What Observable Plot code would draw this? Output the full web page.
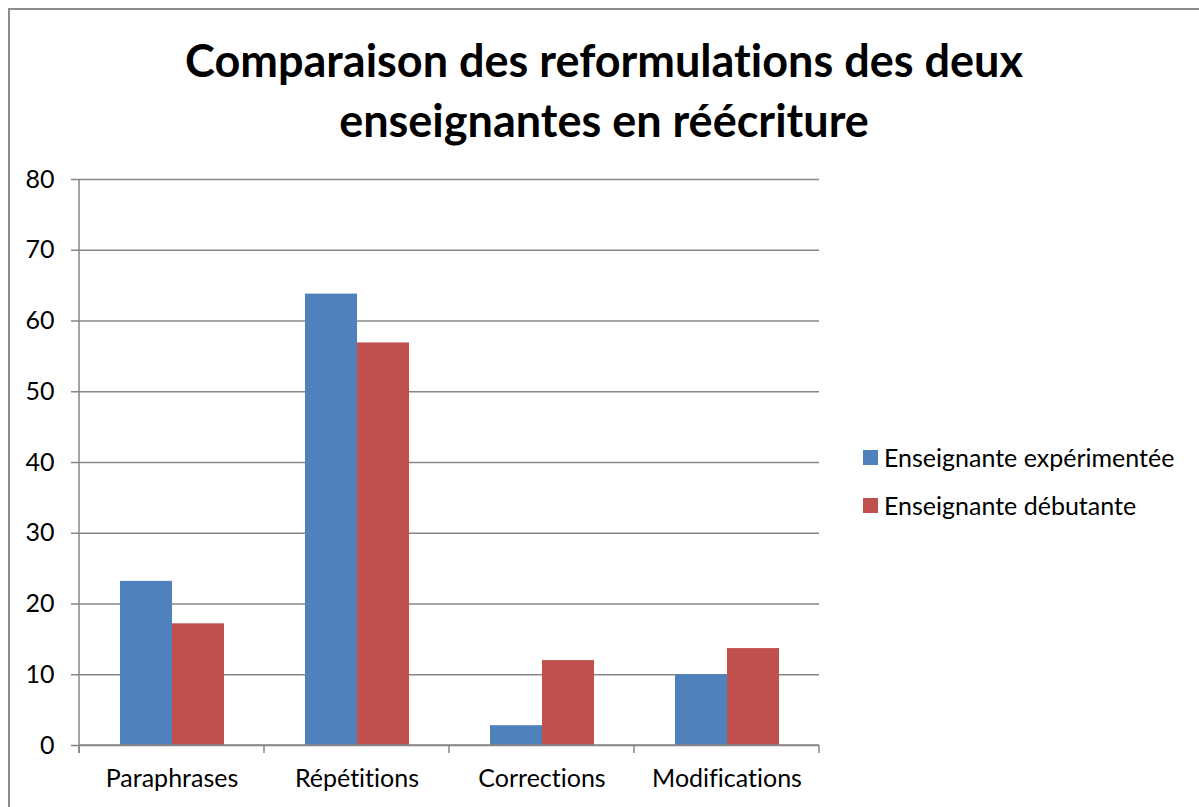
<!DOCTYPE html>
<html>
<head>
<meta charset="utf-8">
<script src="https://cdn.jsdelivr.net/npm/d3@7"></script>
<script src="https://cdn.jsdelivr.net/npm/@observablehq/plot@0.6"></script>
<style>
  html, body { margin: 0; padding: 0; background: #fff; }
  #wrap { position: relative; width: 1199px; height: 807px; overflow: hidden; font-family: Lato, "Open Sans", sans-serif; font-variant-ligatures: none; }
  #wrap svg, #wrap svg text { font-variant-ligatures: none; }
  #border { position: absolute; left: 8px; top: 8px; width: 1250px; height: 900px; border: 2px solid #8c8c8c; box-sizing: border-box; }
  #title { position: absolute; left: 0; top: 30px; width: 1208px; text-align: center; font-weight: bold; font-size: 45px; line-height: 60px; color: #000; }
  #chart { position: absolute; left: 0; top: 150px; }
  #legend { position: absolute; left: 863px; top: 440px; font-size: 25px; color: #000; }
  .item { display: flex; align-items: center; height: 34px; margin-bottom: 14px; }
  .sw { width: 15px; height: 15px; margin-right: 6px; }
</style>
</head>
<body>
<div id="wrap">
  <div id="border"></div>
  <div id="title">Comparaison des reformulations des deux<br>enseignantes en réécriture</div>
  <div id="chart"></div>
  <div id="legend"></div>
</div>
<script>
const categories = ["Paraphrases", "Répétitions", "Corrections", "Modifications"];
const series = ["Enseignante expérimentée", "Enseignante débutante"];
const experimentee = [23.2, 63.8, 2.8, 10.0];
const debutante = [17.2, 56.9, 12.0, 13.7];
const yTicks = [0, 10, 20, 30, 40, 50, 60, 70, 80];
const colors = ["#4F81BD", "#C0504D"];

const data = categories.flatMap((c, i) => [
  {category: c, series: series[0], value: experimentee[i]},
  {category: c, series: series[1], value: debutante[i]}
]);

const grey = "#868686";
const plot = Plot.plot({
  width: 840,
  height: 657,
  marginLeft: 77,
  marginRight: 20,
  marginTop: 29,
  marginBottom: 62,
  style: {fontFamily: "Lato, 'Open Sans', sans-serif", fontSize: "25px", color: "#000", background: "transparent"},
  fx: {domain: categories, padding: 0, label: null, axis: null},
  x: {domain: series, paddingInner: 0, paddingOuter: 0.763, axis: null},
  y: {domain: [0, 80], label: null},
  color: {domain: series, range: colors},
  marks: [
    Plot.gridY(yTicks, {stroke: grey, strokeOpacity: 1, strokeWidth: 1.5}),
    Plot.axisY(yTicks, {tickSize: 8, tickPadding: 17, stroke: grey, strokeWidth: 1.5, fill: "#000", fontSize: 25, label: null}),
    Plot.barY(data, {fx: "category", x: "series", y: "value", fill: "series"}),
    Plot.axisFx({anchor: "bottom", tickSize: 0, tickPadding: 24, fontSize: 25, fill: "#000", label: null})
  ]
});

document.getElementById("chart").appendChild(plot);

// axis lines and category boundary ticks built from Plot's scales
const fx = plot.scale("fx");
const y = plot.scale("y");
const svg = d3.select(plot);
const y0 = y.apply(0);
const yTop = y.apply(80);
const boundaries = categories.map(c => fx.apply(c));
boundaries.push(fx.apply(categories[categories.length - 1]) + fx.bandwidth);
const g = svg.append("g").attr("stroke", grey).attr("stroke-width", 1.5);
g.append("line").attr("x1", boundaries[0]).attr("x2", boundaries[0]).attr("y1", yTop).attr("y2", y0 + 8);
g.append("line").attr("x1", boundaries[0]).attr("x2", boundaries[boundaries.length - 1]).attr("y1", y0).attr("y2", y0);
boundaries.forEach(b => g.append("line").attr("x1", b).attr("x2", b).attr("y1", y0).attr("y2", y0 + 8));

// legend
const legend = d3.select("#legend");
series.forEach((s, i) => {
  const it = legend.append("div").attr("class", "item");
  it.append("div").attr("class", "sw").style("background", colors[i]);
  it.append("span").text(s);
});
</script>
</body>
</html>
